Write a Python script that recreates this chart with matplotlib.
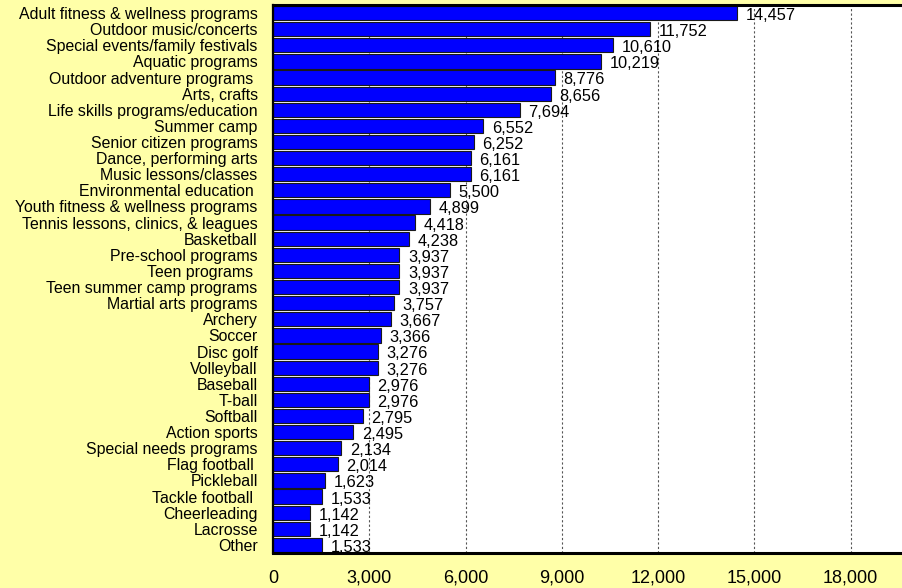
import matplotlib.pyplot as plt
from matplotlib.ticker import FuncFormatter

# Program participation counts, listed top to bottom
programs = [
    'Adult fitness & wellness programs', 'Outdoor music/concerts',
    'Special events/family festivals', 'Aquatic programs',
    'Outdoor adventure programs ', 'Arts, crafts',
    'Life skills programs/education', 'Summer camp',
    'Senior citizen programs', 'Dance, performing arts',
    'Music lessons/classes', 'Environmental education ',
    'Youth fitness & wellness programs', 'Tennis lessons, clinics, & leagues',
    'Basketball', 'Pre-school programs', 'Teen programs ',
    'Teen summer camp programs', 'Martial arts programs', 'Archery',
    'Soccer', 'Disc golf', 'Volleyball', 'Baseball', 'T-ball', 'Softball',
    'Action sports', 'Special needs programs', 'Flag football ',
    'Pickleball', 'Tackle football ', 'Cheerleading', 'Lacrosse', 'Other',
]
counts = [
    14457, 11752, 10610, 10219, 8776, 8656, 7694, 6552, 6252, 6161,
    6161, 5500, 4899, 4418, 4238, 3937, 3937, 3937, 3757, 3667,
    3366, 3276, 3276, 2976, 2976, 2795, 2495, 2134, 2014, 1623,
    1533, 1142, 1142, 1533,
]
xticks = [0, 3000, 6000, 9000, 12000, 15000, 18000]

plt.rcParams['font.family'] = ['Liberation Sans', 'DejaVu Sans']

fig = plt.figure(figsize=(9.02, 5.88), dpi=100, facecolor='#FFFFA8')
ax = fig.add_axes([273 / 902, 35 / 588, 629 / 902, 548 / 588])
ax.set_facecolor('white')

y = list(range(len(programs)))
ax.barh(y, counts, height=0.88, color='#0000FF', edgecolor='#1a1a1a',
        linewidth=0.8, zorder=2)

for yi, v in zip(y, counts):
    ax.text(v + 270, yi + 0.15, f'{v:,}', ha='left', va='center',
            fontsize=11.8, color='black', zorder=3)

ax.set_ylim(len(programs) - 0.5, -0.5)
ax.set_xlim(0, 19600)
ax.set_yticks(y)
ax.set_yticklabels(programs, fontsize=11.4)
ax.set_xticks(xticks)
ax.xaxis.set_major_formatter(FuncFormatter(lambda v, p: f'{int(v):,}'))
ax.tick_params(axis='x', length=0, labelsize=13, pad=12)
ax.tick_params(axis='y', length=0, pad=11)

ax.grid(axis='x', linestyle=(0, (2, 2)), color='#555555', linewidth=0.8, zorder=1)
ax.set_axisbelow(True)

for side in ['top', 'bottom']:
    ax.spines[side].set_linewidth(2.2)
ax.spines['left'].set_linewidth(1.6)
ax.spines['right'].set_visible(False)

fig.savefig('out.png', dpi=100, facecolor=fig.get_facecolor())
